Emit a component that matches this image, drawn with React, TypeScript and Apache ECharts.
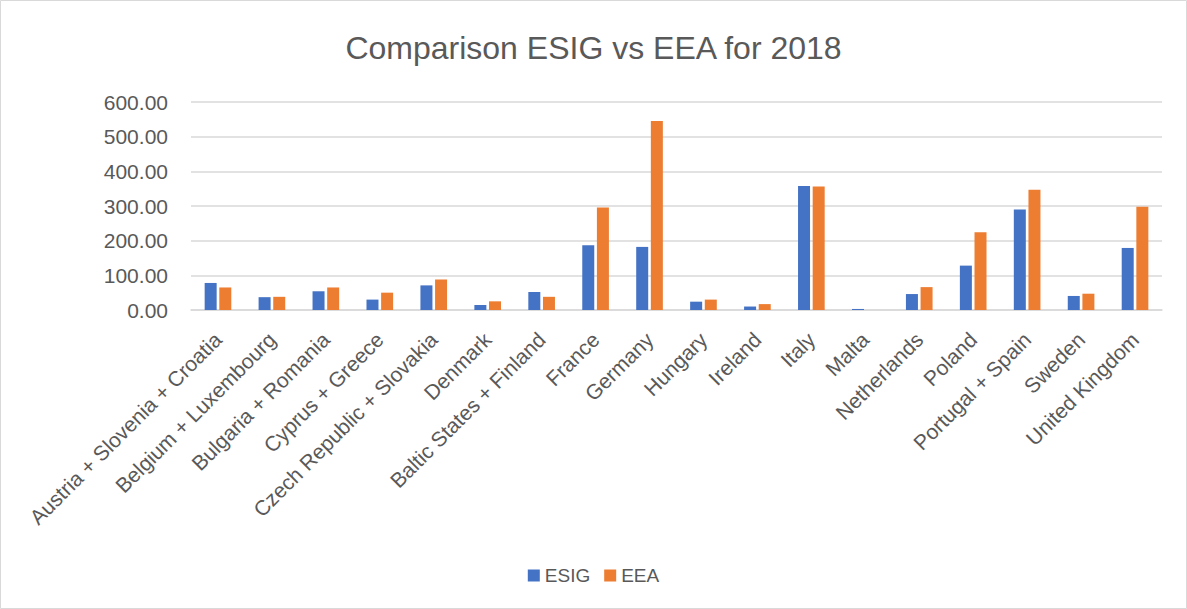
import React, { useEffect, useRef } from "react";
import * as echarts from "echarts";

const categories = [
  "Austria + Slovenia + Croatia",
  "Belgium + Luxembourg",
  "Bulgaria + Romania",
  "Cyprus + Greece",
  "Czech Republic + Slovakia",
  "Denmark",
  "Baltic States + Finland",
  "France",
  "Germany",
  "Hungary",
  "Ireland",
  "Italy",
  "Malta",
  "Netherlands",
  "Poland",
  "Portugal + Spain",
  "Sweden",
  "United Kingdom",
];

const esig = [78, 37, 54, 30, 71, 14.5, 52, 187, 182, 24, 10, 358, 3, 46, 128, 290, 40.5, 179];
const eea = [65, 38, 65, 50, 88, 25, 38, 296, 545, 30, 17, 356, 0, 66, 224, 347, 47, 298];

const FONT = "'Liberation Sans', Arial, sans-serif";
const TEXT = "#595959";

export default function App() {
  const ref = useRef<HTMLDivElement>(null);
  useEffect(() => {
    if (!ref.current) return;
    const chart = echarts.init(ref.current, null, { renderer: "svg" });
    chart.setOption({
      animation: false,
      backgroundColor: "#ffffff",
      textStyle: { fontFamily: FONT },
      title: {
        text: "Comparison ESIG vs EEA for 2018",
        left: "center",
        top: 27,
        textStyle: { fontFamily: FONT, fontSize: 32, fontWeight: "normal", color: TEXT },
      },
      legend: {
        bottom: 19,
        left: "center",
        itemWidth: 12,
        itemHeight: 12,
        itemGap: 14,
        icon: "rect",
        textStyle: { fontFamily: FONT, fontSize: 19, color: TEXT },
        data: ["ESIG", "EEA"],
      },
      graphic: [
        {
          type: "rect",
          shape: { x: 0.5, y: 0.5, width: 1186, height: 608 },
          style: { fill: "none", stroke: "#d9d9d9", lineWidth: 1 },
          silent: true,
        },
      ],
      grid: { left: 191, right: 25, top: 102, bottom: 299, containLabel: false },
      xAxis: {
        type: "category",
        data: categories,
        axisTick: { show: false },
        axisLine: { lineStyle: { color: "#d9d9d9", width: 1.5 } },
        axisLabel: {
          interval: 0,
          rotate: 45,
          margin: 26,
          fontSize: 21,
          color: TEXT,
          fontFamily: FONT,
        },
      },
      yAxis: {
        type: "value",
        min: 0,
        max: 600,
        interval: 100,
        axisLine: { show: false },
        axisTick: { show: false },
        splitLine: { lineStyle: { color: "#d9d9d9", width: 1.5 } },
        axisLabel: {
          fontSize: 21,
          color: TEXT,
          fontFamily: FONT,
          margin: 23,
          formatter: (v: number) => v.toFixed(2),
        },
      },
      series: [
        {
          name: "ESIG",
          type: "bar",
          data: esig,
          barWidth: 12,
          barGap: "22%",
          itemStyle: { color: "#4472C4" },
        },
        {
          name: "EEA",
          type: "bar",
          data: eea,
          barWidth: 12,
          itemStyle: { color: "#ED7D31" },
        },
      ],
    });
    return () => chart.dispose();
  }, []);
  return (
    <div
      ref={ref}
      style={{ position: "absolute", left: 0, top: 0, width: 1187, height: 609 }}
    />
  );
}
